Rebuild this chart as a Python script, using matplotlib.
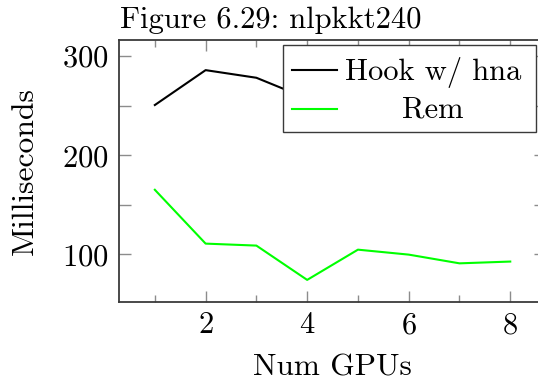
import matplotlib
matplotlib.use("Agg")
import matplotlib.pyplot as plt
from matplotlib.lines import Line2D
from matplotlib.patches import Rectangle
from matplotlib.ticker import MultipleLocator

gpus = [1, 2, 3, 4, 5, 6, 7, 8]
hook_hna = [250.7, 285.9, 278.2, 257.3, 295.0, 280.0, 272.0, 268.0]
rem = [165.2, 110.9, 108.9, 74.3, 104.8, 99.8, 91.0, 92.8]
labels = ["Hook w/ hna", "Rem"]
title = "Figure 6.29: nlpkkt240"
xlabel = "Num GPUs"
ylabel = "Milliseconds"

plt.rcParams['font.family'] = ['cmr10', 'DejaVu Serif']
plt.rcParams['axes.formatter.use_mathtext'] = True

W, H = 538, 381
fig = plt.figure(figsize=(W / 100, H / 100), dpi=100)
left_px, right_px, top_px, bot_px = 119.3, 545.8, 39.5, 302.3
ax = fig.add_axes([left_px / W, 1 - bot_px / H, (right_px - left_px) / W, (bot_px - top_px) / H])

ax.plot(gpus, hook_hna, color='black', lw=1.5, zorder=3)
ax.plot(gpus, rem, color='#00ff00', lw=1.5, zorder=3)

ax.set_xlim(0.3, 8.7)
ax.set_ylim(51.7, 316.8)
ax.xaxis.set_major_locator(MultipleLocator(2))
ax.xaxis.set_minor_locator(MultipleLocator(1))
ax.yaxis.set_major_locator(MultipleLocator(100))
ax.yaxis.set_minor_locator(MultipleLocator(50))

fs = 22
ax.tick_params(which='both', direction='in', top=True, right=True, color='#8c8c8c', width=1.0, labelsize=fs)
ax.tick_params(axis='x', which='major', length=8, pad=7)
ax.tick_params(axis='x', which='minor', length=5)
ax.tick_params(axis='y', which='both', length=8.6, pad=8)
for s in ax.spines.values():
    s.set_color('#3a3a3a')
    s.set_linewidth(1.3)

ax.set_xlabel(xlabel, fontsize=22.5, labelpad=10)
ax.set_ylabel(ylabel, fontsize=22.8, labelpad=16)
fig.text(120 / W, 1 - 28 / H, title, fontsize=22, ha='left', va='baseline')

# legend (pgfplots style, centered entries)
x0, x1, y0, y1 = 0.383, 0.976, 0.648, 0.980
ax.add_patch(Rectangle((x0, y0), x1 - x0, y1 - y0, transform=ax.transAxes,
                       facecolor='white', edgecolor='#3a3a3a', lw=1.0, zorder=5))
ax.add_line(Line2D([0.404, 0.510], [0.884, 0.884], transform=ax.transAxes, color='black', lw=1.5, zorder=6))
ax.add_line(Line2D([0.404, 0.510], [0.737, 0.737], transform=ax.transAxes, color='#00ff00', lw=1.5, zorder=6))
ax.text(0.7355, 0.8459, labels[0], transform=ax.transAxes, ha='center', va='baseline', fontsize=fs, zorder=7)
ax.text(0.7355, 0.705, labels[1], transform=ax.transAxes, ha='center', va='baseline', fontsize=fs, zorder=7)

fig.savefig("out.png", dpi=100)
